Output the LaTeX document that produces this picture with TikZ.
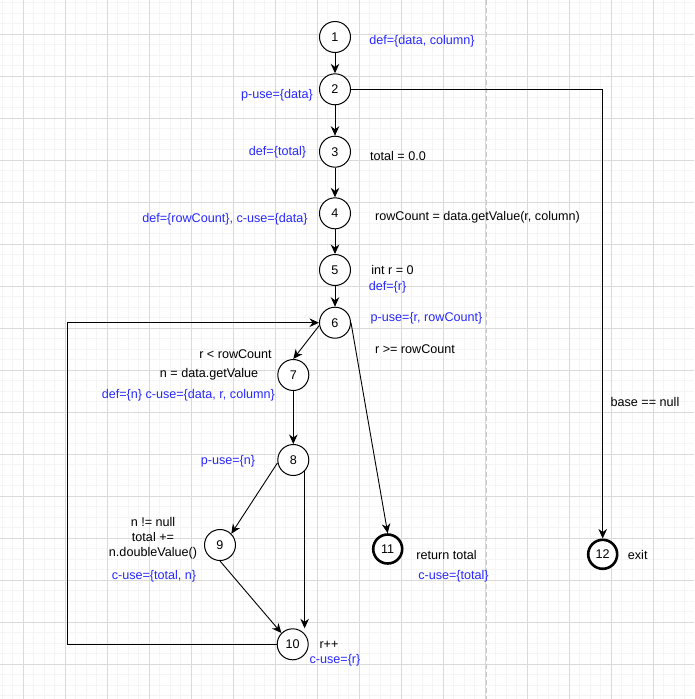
\documentclass[tikz,border=0pt]{standalone}
\usepackage{fontspec}
\setmainfont{Liberation Sans}
\usetikzlibrary{arrows.meta}
\definecolor{usecol}{RGB}{40,40,255}
\definecolor{gridminor}{RGB}{245,245,245}
\definecolor{gridmajor}{RGB}{218,218,218}
\definecolor{sepline}{RGB}{200,200,200}
\begin{document}
\begin{tikzpicture}[x=1pt,y=-1pt,
  font=\fontsize{12.6}{14.5}\selectfont,
  vertex/.style={circle,draw,line width=1pt,minimum size=31pt,inner sep=0pt,fill=white},
  final/.style={vertex,line width=2.6pt,minimum size=29pt},
  arr/.style={draw,line width=0.9pt,-{Stealth[length=9.5pt,width=8.5pt]}},
  code/.style={text=black,inner sep=0pt},
  use/.style={text=usecol,inner sep=0pt}]
\useasboundingbox (0,0) rectangle (694,699);
% background grid
\fill[white] (0,0) rectangle (694,699);
\foreach \gx in {2.3,12.8,...,694} \draw[gridminor,line width=1pt] (\gx,0) -- (\gx,699);
\foreach \gy in {2.8,13.3,...,699} \draw[gridminor,line width=1pt] (0,\gy) -- (694,\gy);
\foreach \gx in {23.3,65.3,...,694} \draw[gridmajor,line width=1pt] (\gx,0) -- (\gx,699);
\foreach \gy in {34.3,76.3,...,699} \draw[gridmajor,line width=1pt] (0,\gy) -- (694,\gy);
% separator
\draw[sepline,line width=1.5pt,dash pattern=on 5pt off 3pt] (486.7,0) -- (486.7,699);

% nodes
\node[vertex] (n1) at (335,37) {1};
\node[vertex] (n2) at (335,89.3) {2};
\node[vertex] (n3) at (335,151.7) {3};
\node[vertex] (n4) at (335,213.3) {4};
\node[vertex] (n5) at (335,270) {5};
\node[vertex] (n6) at (335,322.7) {6};
\node[vertex] (n7) at (293.3,375) {7};
\node[vertex] (n8) at (293.3,460) {8};
\node[vertex] (n9) at (220,545) {9};
\node[vertex] (n10) at (292.7,644.3) {10};
\node[final] (n11) at (387.7,549) {11};
\node[final] (n12) at (602.7,554.3) {12};
\coordinate (loopl) at (67,0);

% edges
\draw[arr] (n1) -- (n2);
\draw[arr] (n2) -- (n3);
\draw[arr] (n3) -- (n4);
\draw[arr] (n4) -- (n5);
\draw[arr] (n5) -- (n6);
\draw[arr] (n2.east) -| (n12.north);
\draw[arr] (n6.190) -- (n7.north);
\draw[arr] (n6.east) -- (n11.north);
\draw[arr] (n7) -- (n8);
\draw[arr] (n8.190) -- (n9.north east);
\draw[arr] (n8.south east) -- (n8.south east |- n10.north);
\draw[arr] (n9.south) -- (n10.north west);
\draw[arr] (n10.west) -- (loopl |- n10.west) -- (loopl |- n6.west) -- (n6.west);

% annotations
\node[use] (t1) at (422,41.5) {def=\{data, column\}};
\node[use] (t2) at (277,95) {p-use=\{data\}};
\node[use] (t3) at (277.5,152) {def=\{total\}};
\node[code] (t4) at (398,155.5) {total = 0.0};
\node[use] (t5) at (225,219) {def=\{rowCount\}, c-use=\{data\}};
\node[code] (t6) at (477.5,217.5) {rowCount = data.getValue(r, column)};
\node[code] (t7) at (392.5,270) {int r = 0};
\node[use] (t8) at (387.5,287.5) {def=\{r\}};
\node[use] (t9) at (426.5,318) {p-use=\{r, rowCount\}};
\node[code] (t10) at (415,349.5) {r >= rowCount};
\node[code] (t11) at (235.5,354) {r < rowCount};
\node[code] (t12) at (209,374.5) {n = data.getValue};
\node[use] (t13) at (188.3,395.7) {def=\{n\} c-use=\{data, r, column\}};
\node[use] (t14) at (228,461) {p-use=\{n\}};
\node[code,align=center,font=\fontsize{12.6}{15}\selectfont] (t15) at (153,538.3) {n != null\\total +=\\n.doubleValue()};
\node[use] (t16) at (154,576) {c-use=\{total, n\}};
\node[code] (t17) at (446.5,554.5) {return total};
\node[use] (t18) at (453.5,576) {c-use=\{total\}};
\node[code] (t19) at (329,644.5) {r++};
\node[use] (t20) at (335,660.5) {c-use=\{r\}};
\node[code] (t21) at (645,402) {base == null};
\node[code] (t22) at (637.7,554.5) {exit};
\end{tikzpicture}
\end{document}
